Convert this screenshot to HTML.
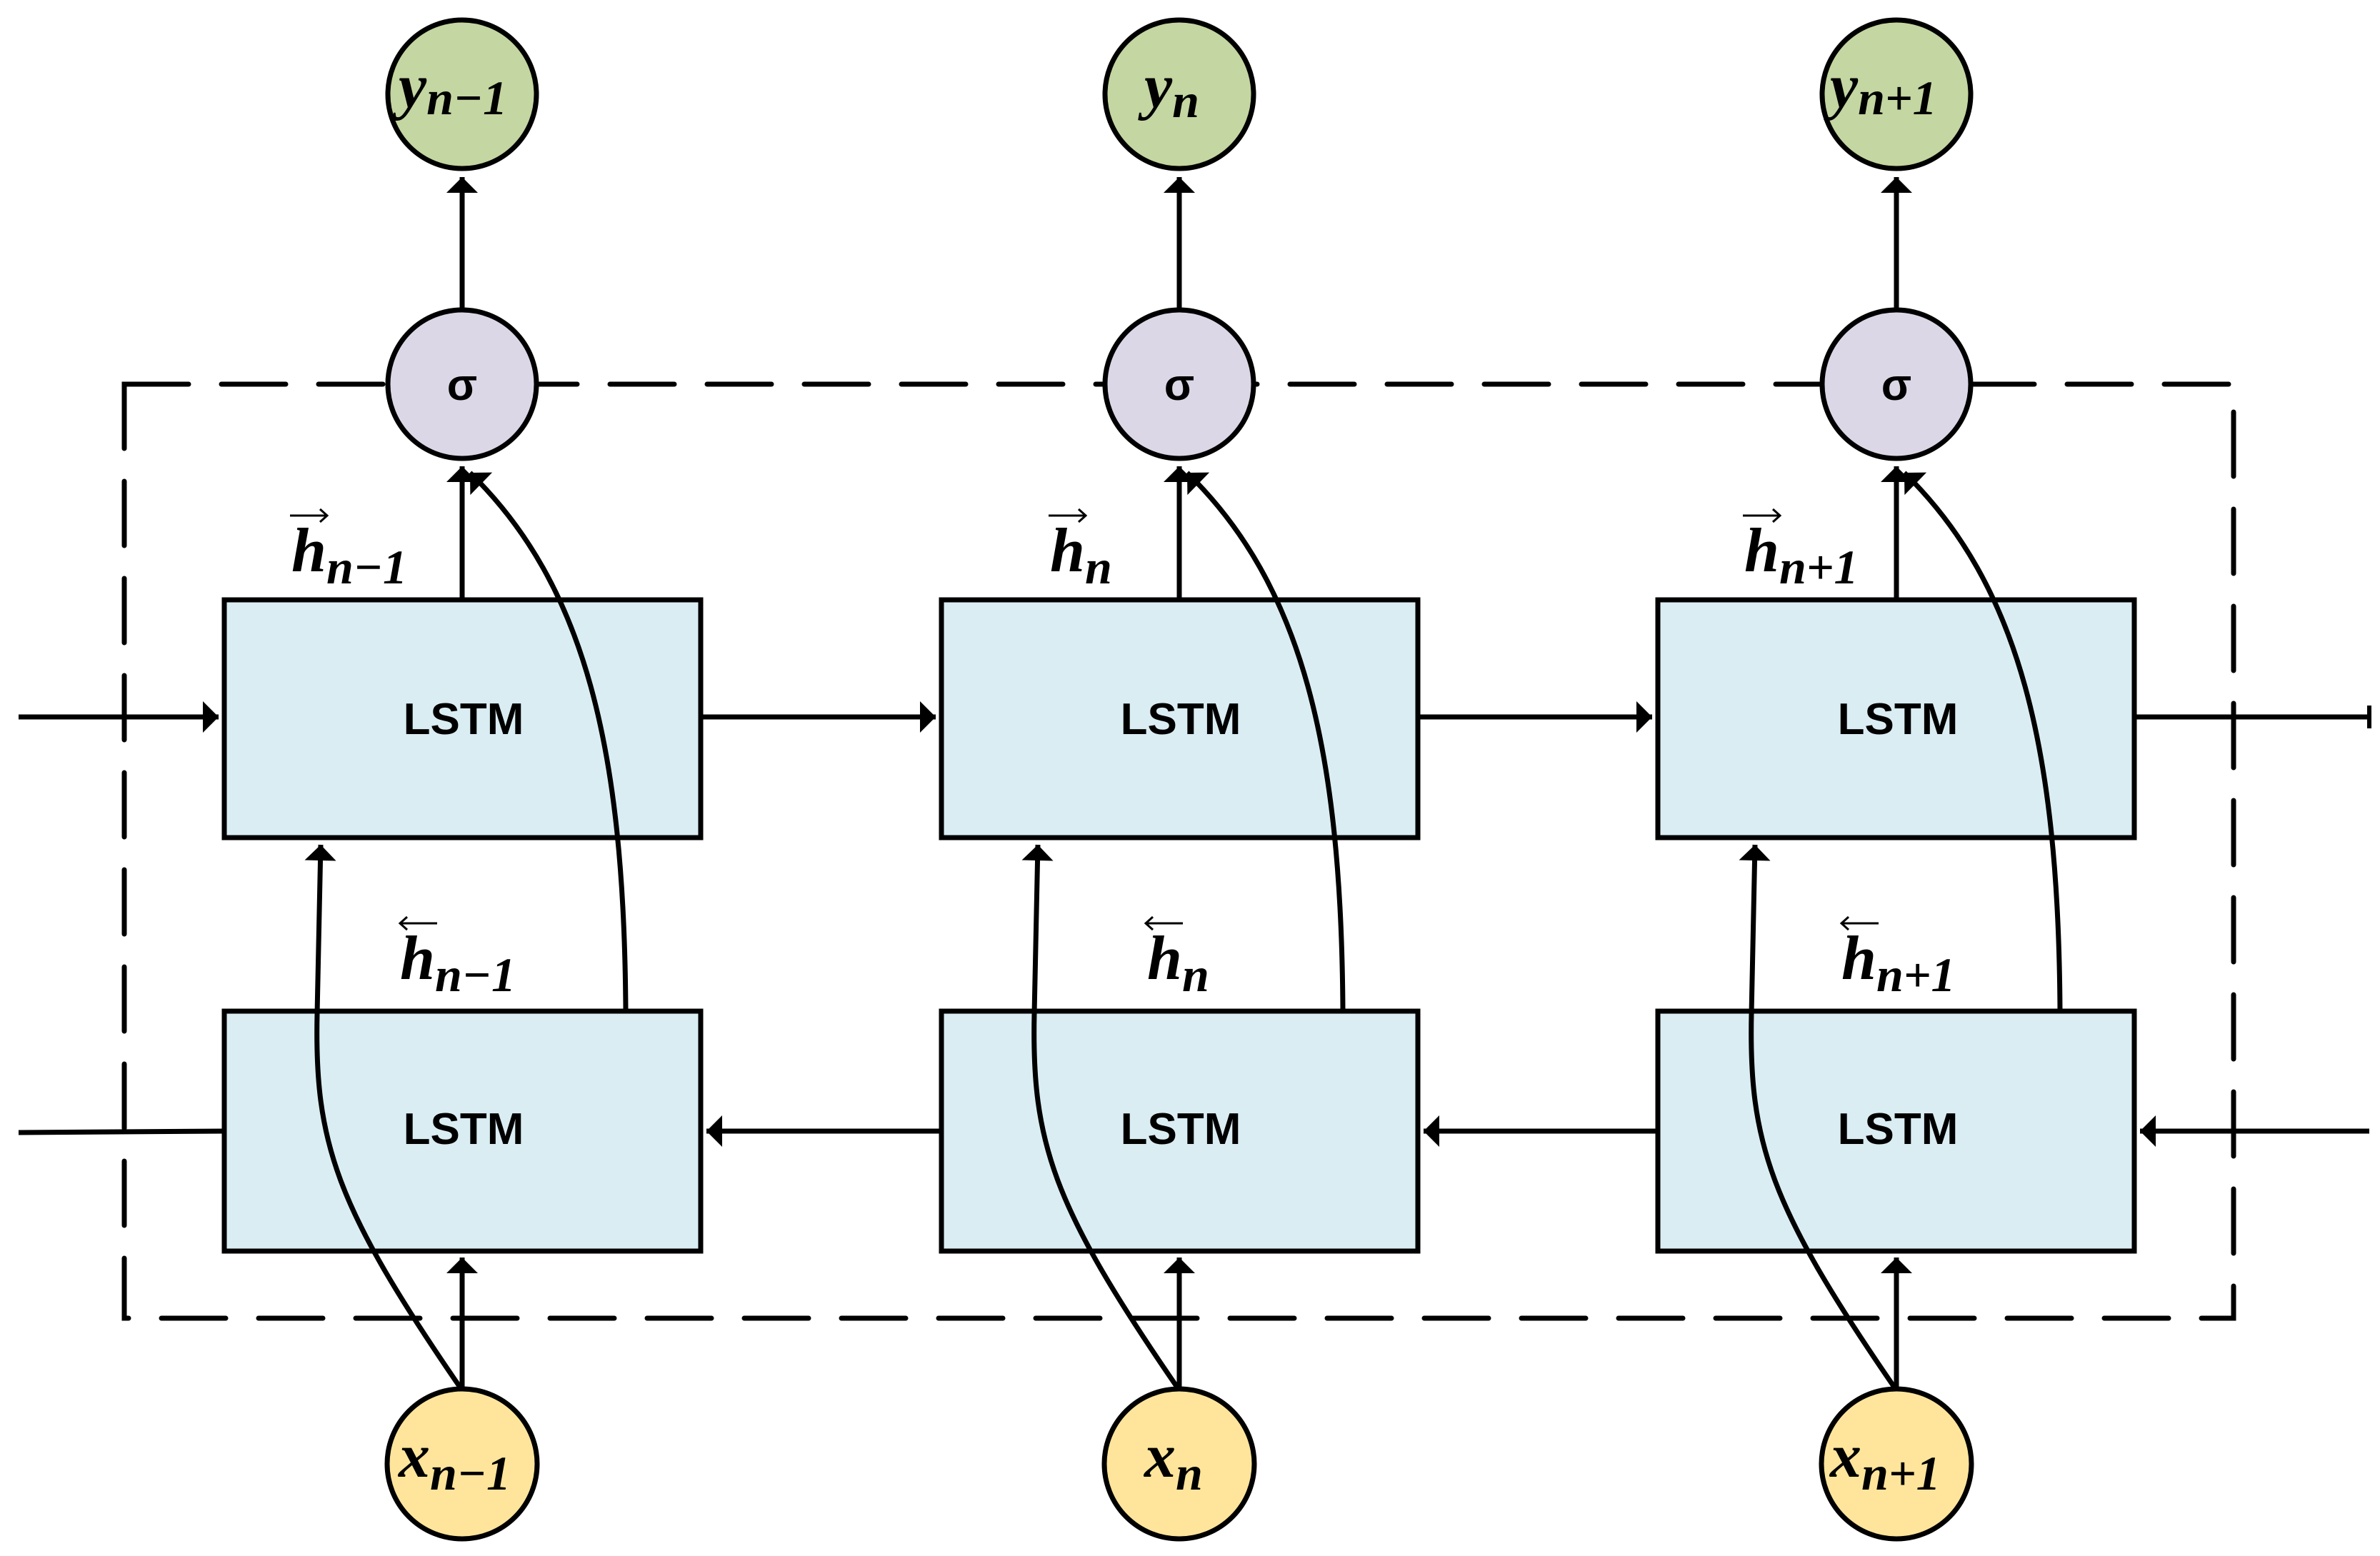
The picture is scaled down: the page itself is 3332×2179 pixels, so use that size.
<!DOCTYPE html>
<html><head><meta charset="utf-8"><style>
html,body{margin:0;padding:0;background:#fff}
svg{display:block}
.m{font-family:"Liberation Serif",serif;font-weight:bold;font-style:italic;fill:#000}
.s{font-family:"Liberation Sans",sans-serif;font-weight:bold;fill:#000}
</style></head><body>
<svg width="3332" height="2179" viewBox="0 0 3332 2179" xmlns="http://www.w3.org/2000/svg">
<defs>
<marker id="a" markerWidth="10" markerHeight="10" refX="9" refY="5" orient="auto" markerUnits="userSpaceOnUse" viewBox="0 0 10 10" style="overflow:visible">
<path d="M-13,-17 L9,5 L-13,27 Z" fill="#000"/>
</marker>
</defs>
<g fill="none" stroke="#000" stroke-width="7">
<rect x="174" y="538" width="2953" height="1308" stroke-dasharray="90 46" stroke-linecap="round"/>
</g>
<g stroke="#000" stroke-width="7">
<rect x="314" y="840" width="667" height="333" fill="#daedf3"/>
<rect x="1318" y="840" width="667" height="333" fill="#daedf3"/>
<rect x="2321" y="840" width="667" height="333" fill="#daedf3"/>
<rect x="314" y="1416" width="667" height="336" fill="#daedf3"/>
<rect x="1318" y="1416" width="667" height="336" fill="#daedf3"/>
<rect x="2321" y="1416" width="667" height="336" fill="#daedf3"/>
</g>
<g fill="none" stroke="#000" stroke-width="7">
<line x1="26" y1="1004" x2="306" y2="1004" marker-end="url(#a)"/>
<line x1="981" y1="1004" x2="1310" y2="1004" marker-end="url(#a)"/>
<line x1="1985" y1="1004" x2="2313" y2="1004" marker-end="url(#a)"/>
<line x1="2988" y1="1004" x2="3317" y2="1004"/>
<line x1="3317" y1="988" x2="3317" y2="1020" stroke-width="6"/>
<line x1="3317" y1="1584" x2="2996" y2="1584" marker-end="url(#a)"/>
<line x1="2321" y1="1584" x2="1993" y2="1584" marker-end="url(#a)"/>
<line x1="1318" y1="1584" x2="989" y2="1584" marker-end="url(#a)"/>
<line x1="314" y1="1584" x2="26" y2="1586"/>
</g>
<g fill="none" stroke="#000" stroke-width="7">
<line x1="647" y1="840" x2="647" y2="653" marker-end="url(#a)"/>
<line x1="647" y1="433" x2="647" y2="248" marker-end="url(#a)"/>
<line x1="647" y1="1944" x2="647" y2="1761" marker-end="url(#a)"/>
<path d="M876,1416 C874,1050 820,820 658,662" marker-end="url(#a)"/>
<path d="M645,1944 C470,1690 440,1600 444,1420 L449,1183" marker-end="url(#a)"/>
<line x1="1651" y1="840" x2="1651" y2="653" marker-end="url(#a)"/>
<line x1="1651" y1="433" x2="1651" y2="248" marker-end="url(#a)"/>
<line x1="1651" y1="1944" x2="1651" y2="1761" marker-end="url(#a)"/>
<path d="M1880,1416 C1878,1050 1824,820 1662,662" marker-end="url(#a)"/>
<path d="M1649,1944 C1474,1690 1444,1600 1448,1420 L1453,1183" marker-end="url(#a)"/>
<line x1="2655" y1="840" x2="2655" y2="653" marker-end="url(#a)"/>
<line x1="2655" y1="433" x2="2655" y2="248" marker-end="url(#a)"/>
<line x1="2655" y1="1944" x2="2655" y2="1761" marker-end="url(#a)"/>
<path d="M2884,1416 C2882,1050 2828,820 2666,662" marker-end="url(#a)"/>
<path d="M2653,1944 C2478,1690 2448,1600 2452,1420 L2457,1183" marker-end="url(#a)"/>
</g>
<g stroke="#000" stroke-width="7">
<circle cx="647" cy="132" r="104" fill="#c4d6a1"/>
<circle cx="1651" cy="132" r="104" fill="#c4d6a1"/>
<circle cx="2655" cy="132" r="104" fill="#c4d6a1"/>
<circle cx="647" cy="538" r="104" fill="#dcd7e6"/>
<circle cx="1651" cy="538" r="104" fill="#dcd7e6"/>
<circle cx="2655" cy="538" r="104" fill="#dcd7e6"/>
<circle cx="647" cy="2050" r="105" fill="#fee59b"/>
<circle cx="1651" cy="2050" r="105" fill="#fee59b"/>
<circle cx="2655" cy="2050" r="105" fill="#fee59b"/>
</g>
<g class="s" font-size="62" text-anchor="middle">
<text x="647" y="560">σ</text><text x="1651" y="560">σ</text><text x="2655" y="560">σ</text>
<text x="649" y="1028">LSTM</text><text x="1653" y="1028">LSTM</text><text x="2657" y="1028">LSTM</text>
<text x="649" y="1602">LSTM</text><text x="1653" y="1602">LSTM</text><text x="2657" y="1602">LSTM</text>
</g>
<g class="m" font-size="88">
<text x="558" y="150">y<tspan font-size="68" dy="10">n−1</tspan></text>
<text x="1602" y="150">y<tspan font-size="68" dy="14">n</tspan></text>
<text x="2562" y="150">y<tspan font-size="68" dy="10">n+1</tspan></text>
<text x="558" y="2068">x<tspan font-size="68" dy="18">n−1</tspan></text>
<text x="1602" y="2068">x<tspan font-size="68" dy="18">n</tspan></text>
<text x="2562" y="2068">x<tspan font-size="68" dy="18">n+1</tspan></text>
<text x="408" y="800">h<tspan font-size="68" dy="17">n−1</tspan></text>
<text x="1470" y="800">h<tspan font-size="68" dy="17">n</tspan></text>
<text x="2442" y="800">h<tspan font-size="68" dy="17">n+1</tspan></text>
<text x="560" y="1371">h<tspan font-size="68" dy="17">n−1</tspan></text>
<text x="1606" y="1371">h<tspan font-size="68" dy="17">n</tspan></text>
<text x="2578" y="1371">h<tspan font-size="68" dy="17">n+1</tspan></text>
</g>
<g fill="none" stroke="#000" stroke-width="3">
<path d="M406,722 H458 M448,713 L458,722 L448,731"/>
<path d="M1468,722 H1520 M1510,713 L1520,722 L1510,731"/>
<path d="M2440,722 H2492 M2482,713 L2492,722 L2482,731"/>
<path d="M612,1293 H560 M570,1284 L560,1293 L570,1302"/>
<path d="M1656,1293 H1604 M1614,1284 L1604,1293 L1614,1302"/>
<path d="M2630,1293 H2578 M2588,1284 L2578,1293 L2588,1302"/>
</g>
</svg>
</body></html>
